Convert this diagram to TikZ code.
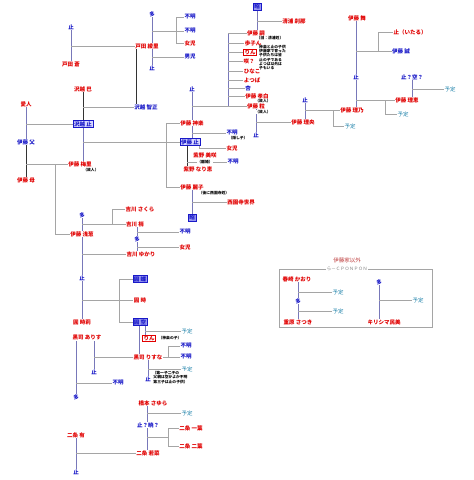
\documentclass[tikz,border=0pt]{standalone}
\usepackage{fontspec}
\setmainfont{Noto Sans CJK JP}
\usetikzlibrary{backgrounds}
\definecolor{nred}{RGB}{225,0,0}
\definecolor{nblue}{RGB}{25,25,200}
\definecolor{nteal}{RGB}{30,130,170}
\definecolor{vln}{RGB}{120,120,185}
\definecolor{hln}{RGB}{165,165,165}
\definecolor{bfl}{RGB}{215,215,255}
\definecolor{bfd}{RGB}{150,150,240}
\definecolor{ttl}{RGB}{190,60,60}
\tikzset{
  lbl/.style={inner sep=0.4pt, fill=white, font=\fontsize{5.5}{6}\selectfont},
  rd/.style={lbl, text=nred, font=\fontsize{5.5}{6}\selectfont\bfseries},
  bl/.style={lbl, text=nblue, font=\fontsize{5.5}{6}\selectfont\bfseries},
  tl/.style={lbl, text=nteal},
  nt/.style={lbl, font=\fontsize{3.8}{4.2}\selectfont\bfseries, align=left},
  bbox/.style={bl, draw=nblue, fill=bfl, inner sep=1pt, line width=0.5pt},
  bdark/.style={bl, draw=nblue, fill=bfd, inner sep=1pt, line width=0.5pt},
  rbox/.style={rd, draw=nred, inner sep=0.8pt, line width=0.5pt},
  vl/.style={draw=vln, line width=0.9pt},
  hl/.style={draw=hln, line width=0.9pt},
  dl/.style={draw=black!80, line width=0.95pt},
}
\begin{document}
\begin{tikzpicture}[x=1pt,y=-1pt]
\useasboundingbox (0,0) rectangle (474,480);
% ---------- top-left ----------
\node[bl] (a1) at (71,27) {止};
\node[rd] (a2) at (71,64) {戸田 蒼};
\node[rd] (a3) at (147,46) {戸田 綾里};
\node[bl] (a4) at (152,14) {多};
\node[bl] (a5) at (152,68) {止};
\node[bl] (a6) at (190,17) {不明};
\node[bl] (a7) at (190,31) {不明};
\node[rd] (a8) at (190,43) {女児};
\node[bl] (a9) at (190,57) {男児};
\node[rd] (b1) at (83,89) {沢越 巴};
\node[bl] (b2) at (146,107) {沢越 智正};
\node[bbox] (b3) at (83,124) {沢越 止};
\node[rd] (b4) at (26,104) {愛人};
\node[bl] (b5) at (26,142) {伊藤 父};
\node[rd] (b6) at (26,180) {伊藤 母};
\node[rd] (b7) at (80,164) {伊藤 梅里};
\node[nt] (b7n) at (91,170) {（故人）};
% ---------- middle ----------
\node[rd] (c1) at (82,234) {伊藤 浅葱};
\node[bbox] (c2) at (190,142) {伊藤 止};
\node[bl] (c3) at (192,89) {止};
\node[rd] (c4) at (192,123) {伊藤 神楽};
\node[bl] (c5) at (232,133) {不明};
\node[nt] (c5n) at (238,138.5) {（隠し子）};
\node[rd] (c6) at (232,148) {女児};
\node[rd] (c7) at (205,155) {紫野 美咲};
\node[bl] (c8) at (233,162) {不明};
\node[nt] (c9) at (205,162) {（離婚）};
\node[rd] (c10) at (198,169) {紫野 なり恵};
\node[rd] (c11) at (192,187) {伊藤 麗子};
\node[nt] (c11n) at (214,193) {（後に西園寺姓）};
\node[rd] (c12) at (241,202) {西園寺世界};
\node[bdark] (c13) at (192,218) {昭};
% ---------- top centre ----------
\node[bdark] (d1) at (257,7) {昭};
\node[rd] (d2) at (294,21) {清浦 刹那};
\node[rd] (d3) at (256,33) {伊藤 嗣};
\node[nt] (d3n) at (270,38.5) {（旧：清浦姓）};
\node[rd] (d4) at (253,43) {歩子ん};
\node[rbox] (d5) at (250,52) {りん};
\node[rd] (d6) at (249,61) {咲？};
\node[rd] (d7) at (252,71) {ひなこ};
\node[rd] (d8) at (252,80) {よつば};
\node[bl] (d9) at (248,88) {杏};
\node[rd] (d10) at (257,96) {伊藤 孝白};
\node[nt] (d10n) at (263,101.5) {（故人）};
\node[rd] (d11) at (256,106) {伊藤 粒};
\node[nt] (d11n) at (263,112) {（故人）};
\node[nt, anchor=north west, inner sep=0pt] (d12) at (259,45) {神楽と止の子供\\伊藤家で育った\\子供たちは皆\\止の子である\\よつば以外は\\子もいる};
% ---------- top right ----------
\node[bl] (e1) at (256,135) {止};
\node[rd] (e2) at (303,122) {伊藤 理央};
\node[bl] (e3) at (305,100) {止};
\node[rd] (e4) at (352,110) {伊藤 理乃};
\node[tl] (e5) at (350,126) {予定};
\node[rd] (e6) at (357,18) {伊藤 舞};
\node[bl] (e7) at (356,77) {止};
\node[bl] (e8) at (401,51) {伊藤 誠};
\node[rd] (e9) at (410,32) {止（いたる）};
\node[rd] (e10) at (407,100) {伊藤 理恵};
\node[tl] (e11) at (403,114) {予定};
\node[bl] (e12) at (412,77) {止？空？};
\node[tl] (e13) at (450,89) {予定};
% ---------- left middle ----------
\node[bl] (f1) at (82,215) {多};
\node[rd] (f2) at (140,209) {吉川 さくら};
\node[rd] (f3) at (135,224) {吉川 梢};
\node[bl] (f4) at (137,239) {多};
\node[rd] (f5) at (141,254) {吉川 ゆかり};
\node[bl] (f6) at (185,232) {不明};
\node[rd] (f7) at (185,247) {女児};
\node[bl] (f8) at (82,278) {止};
\node[bdark] (f9) at (140,279) {圓 蝶};
\node[rd] (f10) at (140,300) {圓 時};
\node[rd] (f11) at (82,322) {圓 時莉};
\node[bdark] (f12) at (140,322) {圓 空};
% ---------- bottom ----------
\node[rbox] (g1) at (149,338) {りん};
\node[nt] (g1n) at (170,338) {（神楽の子）};
\node[tl] (g2) at (187,331) {予定};
\node[rd] (g3) at (87,338) {黒司 ありす};
\node[rd] (g4) at (148,357) {黒司 りすな};
\node[bl] (g5) at (186,346) {不明};
\node[bl] (g6) at (186,357) {不明};
\node[bl] (g7) at (94,372) {止};
\node[bl] (g8) at (76,397) {多};
\node[bl] (g9) at (118,383) {不明};
\node[bl] (g10) at (148,379) {止};
\node[tl] (g11) at (187,369) {予定};
\node[nt, anchor=west] (g12) at (152,377.5) {（第一子二子の\\\ 父親は空かよか不明\\\ 第三子は止の子供）};
\node[rd] (h1) at (153,403) {橋本 さゆら};
\node[tl] (h2) at (187,413) {予定};
\node[bl] (h3) at (148,425) {止？暁？};
\node[rd] (h4) at (148,453) {二条 若菜};
\node[rd] (h5) at (191,428) {二条 一葉};
\node[rd] (h6) at (191,446) {二条 二葉};
\node[rd] (h7) at (76,435) {二条 有};
\node[bl] (h8) at (76,472) {止};
% ---------- box: others ----------
\node[lbl, text=ttl] (i0) at (347,260) {伊藤家以外};
\node[lbl, text=gray, font=\fontsize{4.5}{5}\selectfont] (i1) at (347,269) {ら－ＣＰＯＮＰＯＮ};
\node[rd] (i2) at (297,279) {春崎 かおり};
\node[bl] (i3) at (298,301) {多};
\node[rd] (i4) at (298,322) {重原 さつき};
\node[tl] (i5) at (338,292) {予定};
\node[tl] (i6) at (338,311) {予定};
\node[bl] (i7) at (379,282) {多};
\node[rd] (i8) at (384,322) {キリシマ民美};
\node[tl] (i9) at (418,300) {予定};

\begin{scope}[on background layer]
\fill[white] (0,0) rectangle (474,480);
% top-left
\draw[vl] (a1) -- (a2);
\draw[hl] (a1 |- a3) -- (a3.west);
\draw[vl] (a4) -- (a5);
\draw[hl] (a4 |- a7) -- (a7.west);
\draw[hl] (a6.west) -| (176,43) -- (a8.west);
\draw[hl] (a5 |- a9) -- (a9.west);
\draw[dl] (136,0 |- a3.south) -- (136,0 |- b2.north);
\draw[dl] (b1) -- (b3);
\draw[hl] (83,107) -- (b2.west);
\draw[vl] (b4) -- (b5);
\draw[hl] (b4 |- b3) -- (b3.west);
\draw[dl] (b5) -- (b6);
\draw[hl] (b5 |- b7) -- (b7.west);
\draw[vl] (b3) -- (b3 |- b7.north);
\draw[hl] (b3 |- c2) -- (c2.west);
\draw[hl] (55,164) -- (55,234) -- (c1.west);
% middle
\draw[vl] (c3) -- (c3 |- c2.north);
\draw[hl] (192,106) -- (228,106);
\draw[vl] (228,106) -- (228,33);
\foreach \n in {d3,d4,d5,d6,d7,d8,d9,d10,d11} \draw[hl] (228,0 |- \n) -- (\n.west);
\draw[hl] (c4.west) -| (166,187) -- (c11.west);
\draw[hl] (192,133) -- (c5.west);
\draw[hl] (199,0 |- c2.south) |- (c6.west);
\draw[dl] (187,0 |- c2.south) -- (187,0 |- c10.north);
\draw[hl] (187,162) -- (c8.west);
\draw[vl] (c11) -- (c13);
\draw[hl] (c11 |- c12) -- (c12.west);
% top centre / right
\draw[vl] (d1) -- (d1 |- d3.north);
\draw[hl] (d1 |- d2) -- (d2.west);
\draw[vl] (d11) -- (e1);
\draw[hl] (256,122) -- (e2.west);
\draw[vl] (e3) -- (e3 |- e2.north);
\draw[hl] (e3 |- e4) -- (e4.west);
\draw[hl] (333,110) |- (e5.west);
\draw[vl] (e7 |- e6.south) -- (e7 |- e4.north);
\draw[hl] (356,51) -- (e8.west);
\draw[hl] (378,51) |- (e9.west);
\draw[hl] (356,100) -- (e10.west);
\draw[hl] (385,100) |- (e11.west);
\draw[vl] (e12) -- (e12 |- e10.north);
\draw[hl] (412,89) -- (e13.west);
% left middle
\draw[vl] (f1) -- (c1);
\draw[hl] (82,224) -- (f3.west);
\draw[hl] (112,224) |- (f2.west);
\draw[vl] (f4 |- f3.south) -- (f4 |- f5.north);
\draw[hl] (137,232) -- (f6.west);
\draw[hl] (137,247) -- (f7.west);
\draw[vl] (c1) -- (f11);
\draw[hl] (82,254) -- (f5.west);
\draw[hl] (82,300) -- (f10.west);
\draw[hl] (f9.west) -| (119,322) -- (f12.west);
% bottom
\draw[vl] (139,0 |- f12.south) -- (139,0 |- g4.north);
\draw[vl] (145,0 |- f12.south) -- (145,0 |- g1.north);
\draw[hl] (145,331) -- (g2.west);
\draw[vl] (g7 |- g3.south) -- (g7);
\draw[hl] (94,357) -- (g4.west);
\draw[vl] (g8 |- g3.south) -- (g8);
\draw[hl] (76,383) -- (g9.west);
\draw[hl] (g4.east) -- (g6.west);
\draw[hl] (168,357) |- (g5.west);
\draw[vl] (g10 |- g4.south) -- (g10);
\draw[hl] (148,369) -- (g11.west);
\draw[vl] (147,0 |- h1.south) -- (147,0 |- h4.north);
\draw[hl] (147,413) -- (h2.west);
\draw[hl] (147,437) -- (168,437);
\draw[hl] (h5.west) -| (168,446) -- (h6.west);
\draw[vl] (h7) -- (h8);
\draw[hl] (76,453) -- (h4.west);
% box
\draw[hln, line width=0.8pt] (279,269) rectangle (432,327);
\draw[vl] (i3 |- i2.south) -- (i3 |- i4.north);
\draw[hl] (298,292) -- (i5.west);
\draw[hl] (298,311) -- (i6.west);
\draw[vl] (i7) -- (i7 |- i8.north);
\draw[hl] (379,300) -- (i9.west);
\end{scope}
\end{tikzpicture}
\end{document}
